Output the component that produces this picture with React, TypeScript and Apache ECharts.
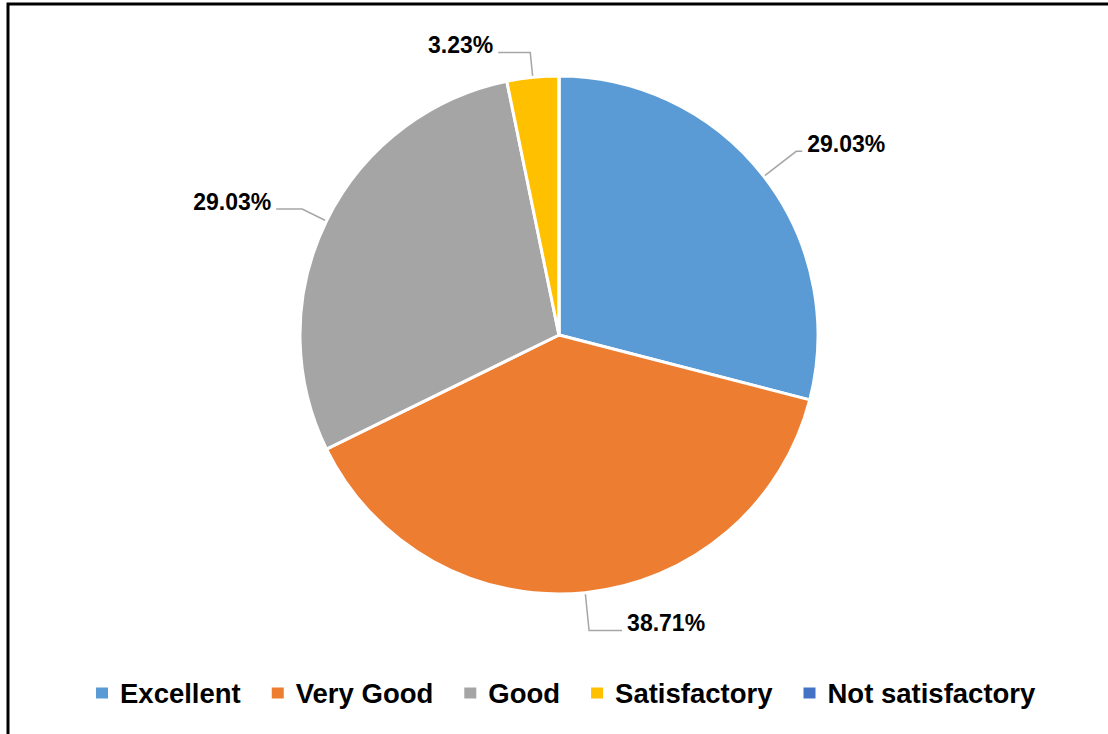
import React, { useEffect, useRef } from "react";
import * as echarts from "echarts";

const categories = ["Excellent", "Very Good", "Good", "Satisfactory", "Not satisfactory"];
const percentages = [29.03, 38.71, 29.03, 3.23, 0];
const colors = ["#5B9BD5", "#ED7D31", "#A5A5A5", "#FFC000", "#4472C4"];

// leader-line lengths per slice [first segment, horizontal segment]
const leaderLines = [
  [41, 6],
  [38, 33],
  [27, 26],
  [25, 32],
  [0, 0],
];

export default function App() {
  const ref = useRef<HTMLDivElement>(null);
  useEffect(() => {
    if (!ref.current) return;
    const chart = echarts.init(ref.current, null, { renderer: "svg" });
    const font = "'Liberation Sans', Arial, sans-serif";
    chart.setOption({
      animation: false,
      backgroundColor: "#ffffff",
      graphic: [
        {
          type: "rect",
          shape: { x: 8, y: 4, width: 1110, height: 740 },
          style: { fill: "none", stroke: "#000000", lineWidth: 3 },
          silent: true,
        },
      ],
      legend: {
        show: true,
        left: 89,
        top: 674,
        orient: "horizontal",
        icon: "rect",
        itemWidth: 14,
        itemHeight: 13,
        itemGap: 29,
        textStyle: {
          fontFamily: font,
          fontWeight: "bold",
          fontSize: 27.5,
          color: "#000000",
          padding: [0, 0, 0, 6],
        },
        data: categories,
      },
      series: [
        {
          type: "pie",
          center: [559, 335],
          radius: [0, 259],
          startAngle: 90,
          clockwise: true,
          avoidLabelOverlap: false,
          itemStyle: { borderColor: "#ffffff", borderWidth: 3 },
          label: {
            show: true,
            position: "outside",
            formatter: (p: any) => "{v|" + p.value.toFixed(2) + "%}\n{s| }",
            fontFamily: font,
            color: "#000000",
            rich: {
              v: {
                fontFamily: font,
                fontWeight: "bold",
                fontSize: 23,
                lineHeight: 26,
                color: "#000000",
              },
              s: { fontSize: 8, lineHeight: 14 },
            },
          },
          labelLine: {
            show: true,
            length: 36,
            length2: 12,
            lineStyle: { color: "#A6A6A6", width: 1.5 },
          },
          data: categories.map((c, i) => ({
            name: c,
            value: percentages[i],
            itemStyle: { color: colors[i] },
            label: percentages[i] === 0 ? { show: false } : {},
            labelLine:
              percentages[i] === 0
                ? { show: false }
                : { length: leaderLines[i][0], length2: leaderLines[i][1] },
          })),
        },
      ],
    });
    return () => chart.dispose();
  }, []);
  return (
    <div
      ref={ref}
      style={{ position: "fixed", left: 0, top: 0, width: 1108, height: 734 }}
    />
  );
}
